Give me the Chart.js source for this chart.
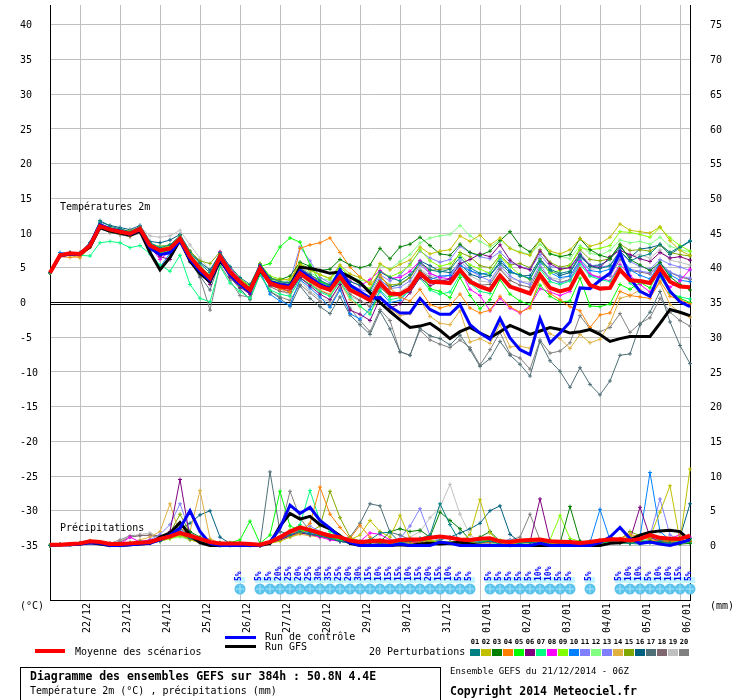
<!DOCTYPE html>
<html>
<head>
<meta charset="utf-8">
<script src="https://cdn.jsdelivr.net/npm/chart.js@4"></script>
<style>
body { margin: 0; background: #fff; }
#wrap { width: 740px; height: 700px; }
</style>
</head>
<body>
<div id="wrap"><canvas id="myChart" width="740" height="700"></canvas></div>
<script>
// GEFS run 21/12/2014 06Z, one point every 6h (0..384h)
let hours = Array.from({ length: 65 }, (_, i) => i * 6);
let dayLabels = ['22/12','23/12','24/12','25/12','26/12','27/12','28/12','29/12','30/12','31/12','01/01','02/01','03/01','04/01','05/01','06/01'];
let tempTicks = [-35,-30,-25,-20,-15,-10,-5,0,5,10,15,20,25,30,35,40];
let precipTicks = [0,5,10,15,20,25,30,35,40,45,50,55,60,65,70,75];

// snow probability (%) per step
let snowProb = [0,0,0,0,0, 0,0,0,0,0, 0,0,0,0,0, 0,0,0,0,5, 0,5,5,20,25, 20,25,30,35,25, 20,30,15,10,15, 15,10,15,20,15, 10,5,5,0,5, 5,5,5,5,10, 10,5,5,0,5, 0,0,5,10,10, 5,10,10,15,5];

// temperature 2m (°C)
let tMean = [4.3,6.8,7.1,7.0,8.2, 11.0,10.5,10.2,9.9,10.6, 8.2,7.5,7.8,9.2,6.6, 4.9,3.5,6.6,4.4,3.0, 1.8,4.9,2.8,2.3,2.1, 4.2,3.2,2.3,1.8,3.7, 1.8,1.1,0.3,2.8,1.3, 1.2,2.0,4.2,3.0,2.9, 2.8,4.7,3.0,2.3,1.8, 3.9,2.3,1.8,1.3,4.0, 2.1,1.6,2.0,4.7,2.5, 2.0,2.1,4.7,3.2,3.1, 2.8,5.0,3.0,2.3,2.2];
let tCtrl = [4.3,6.7,7.0,6.9,8.4, 11.2,10.6,10.3,9.8,10.5, 7.9,6.9,7.2,8.9,6.2, 4.5,3.2,6.3,4.0,2.6, 1.5,5.2,3.0,2.6,2.4, 4.6,3.6,2.6,2.0,4.7, 2.5,1.6,0.6,0.7,-0.6, -1.5,-1.5,0.6,-1.0,-1.7, -1.7,-0.3,-3.2,-4.4,-5.3, -2.3,-5.1,-6.8,-7.5,-2.3, -5.8,-4.4,-2.8,2.1,2.0, 3.2,4.2,7.2,3.5,1.6, 0.9,4.2,1.6,0.1,-0.6];
let tGfs = [4.3,6.8,7.0,7.0,8.0, 10.8,10.3,10.0,9.7,10.3, 7.2,4.7,6.5,9.0,6.0, 4.2,3.0,6.0,4.2,2.8, 1.8,4.6,3.0,2.5,2.4, 5.1,4.9,4.6,4.2,4.4, 3.7,2.9,1.4,0.0,-1.3, -2.5,-3.6,-3.4,-3.0,-4.0, -5.2,-4.2,-3.6,-4.4,-5.1, -4.2,-3.3,-3.9,-4.6,-4.1, -3.6,-3.9,-4.4,-4.2,-3.9, -4.6,-5.6,-5.2,-4.9,-4.9, -4.9,-3.0,-1.0,-1.4,-1.9];
let t01 = [4.3,6.9,7.2,7.1,8.6, 11.8,11.0,10.6,10.2,10.9, 8.6,7.9,8.3,9.6,7.2, 5.6,4.3,7.2,5.2,3.6, 2.6,5.5,3.6,3.0,2.8, 4.9,4.0,3.2,2.5,4.6, 3.0,2.5,1.7,4.4,3.6, 3.1,4.0,5.8,4.7,4.4, 4.8,6.5,5.0,4.2,3.9, 5.6,4.3,4.0,3.4,6.0, 4.8,4.2,4.5,6.8,5.2, 4.9,5.3,7.4,6.0,6.6, 7.0,8.4,7.2,8.0,8.9];
let t02 = [4.3,6.8,7.0,6.9,8.4, 11.3,10.8,10.5,10.3,10.9, 8.4,7.8,8.2,9.6,7.1, 5.1,3.6,6.9,4.6,3.1, 2.0,5.6,3.5,3.2,3.4, 5.5,4.6,4.0,3.5,5.4, 4.1,3.6,2.8,5.6,4.7, 5.5,6.1,8.0,7.0,7.4, 7.6,9.6,8.8,9.7,8.3, 9.3,7.8,7.2,6.8,9.0, 7.4,7.0,7.6,9.2,8.1, 8.5,9.4,11.3,10.4,10.2, 10.0,10.9,8.9,7.5,6.8];
let t03 = [4.3,6.9,7.1,7.0,8.3, 11.2,10.7,10.4,10.0,10.7, 8.3,7.6,7.9,9.3,6.8, 5.0,3.7,6.8,4.5,3.0, 2.0,5.3,3.4,3.3,3.8, 5.8,5.2,4.6,4.8,6.2, 5.4,5.0,5.4,7.8,6.3, 8.0,8.4,9.4,8.2,7.0, 6.8,8.4,7.2,6.8,7.4, 8.9,10.2,8.2,7.3,9.0, 7.0,6.6,6.9,9.2,7.6, 6.8,6.4,8.3,6.2,5.4, 4.6,5.8,3.7,2.6,1.8];
let t04 = [4.3,6.6,6.5,6.6,8.0, 10.9,10.4,10.0,9.6,10.4, 8.0,7.4,7.6,9.0,6.3, 4.6,3.2,6.3,4.0,2.7, 1.6,4.8,2.8,2.0,1.5, 7.8,8.3,8.6,9.3,7.2, 5.1,3.7,2.6,4.0,2.1, 0.8,0.2,1.9,-0.3,-0.8, -0.4,1.2,-0.8,-1.5,-1.1, 0.9,-0.6,-1.4,-0.8,3.5, 1.3,0.4,-0.6,-1.2,-3.6, -1.8,-1.5,1.6,1.0,0.8, 0.6,3.1,0.9,0.4,-0.2];
let t05 = [4.3,6.8,7.1,7.0,8.1, 10.9,10.4,10.1,9.8,10.5, 8.0,7.2,7.5,9.0,6.2, 4.6,3.0,6.2,4.2,2.5, 2.1,5.2,5.6,8.0,9.3, 8.7,5.4,3.0,2.4,4.9, 2.3,1.0,0.2,2.6,0.9, 1.1,2.0,4.4,2.0,1.6, 0.7,3.6,1.0,-0.9,0.4, 3.3,1.2,0.2,-0.3,2.5, 0.9,0.1,0.2,3.5,-0.5, -0.6,-0.2,2.6,1.9,2.9, 2.1,4.9,1.5,0.6,0.0];
let t06 = [4.3,6.8,7.1,7.0,8.2, 11.0,10.5,10.2,9.9,10.5, 7.8,6.6,6.2,8.8,6.0, 4.3,2.6,6.1,3.7,2.2, 1.2,4.6,2.5,2.0,1.6, 3.6,2.4,1.2,0.4,2.6, -1.1,-1.7,-2.6,0.6,-0.8, -0.2,1.4,3.6,2.4,3.0, 3.4,5.6,6.2,7.0,6.6, 8.3,6.1,5.1,4.7,7.4, 5.6,4.8,5.0,6.9,5.3, 5.0,6.6,7.5,6.9,6.3, 5.9,7.2,6.4,6.6,6.1];
let t07 = [4.3,6.7,6.9,6.8,6.7, 8.6,8.8,8.6,7.9,8.2, 7.0,5.4,4.5,6.8,2.6, 0.6,0.1,5.2,2.8,1.6, 0.6,4.0,1.8,1.2,0.9, 3.5,2.6,1.5,0.9,3.0, 0.8,-0.5,-1.7,1.8,0.4, 0.7,1.6,3.5,1.8,1.2, 1.5,4.0,2.8,1.6,1.3, 3.8,2.5,1.7,1.5,4.8, 3.0,2.6,3.1,5.5,3.8, 3.3,3.0,5.2,2.8,1.5, 1.1,3.7,1.4,0.8,0.5];
let t08 = [4.3,6.8,7.1,7.0,8.3, 11.1,10.6,10.3,10.0,10.7, 8.1,6.2,7.4,9.0,6.4, 4.6,3.3,7.3,5.0,3.2, 2.0,4.9,3.0,2.4,2.1, 5.0,4.0,2.6,2.1,4.8, 3.1,2.4,3.3,4.6,3.5, 3.6,4.5,6.0,4.2,3.6, 3.4,4.8,1.9,1.0,-1.2, 0.6,-0.8,-1.5,-0.5,2.0, 1.5,1.0,1.6,5.9,4.1, 3.6,3.1,5.5,3.9,2.6, 1.5,3.8,2.2,3.1,4.8];
let t09 = [4.3,6.8,7.1,7.0,8.2, 11.0,10.4,10.1,9.9,10.6, 8.3,7.7,8.1,9.4,6.9, 5.2,3.9,6.9,4.6,3.3, 2.4,5.6,3.8,3.4,3.2, 5.6,4.8,4.0,3.4,5.2, 3.6,2.6,2.0,4.6,3.7, 4.3,5.4,7.6,6.0,5.2, 5.6,6.9,5.4,4.8,4.2, 6.6,5.2,4.0,3.3,6.1, 4.2,4.6,5.3,7.9,7.6, 7.8,8.2,10.2,10.1,9.8, 9.4,10.8,9.3,8.2,7.4];
let t10 = [4.3,7.2,7.1,7.0,8.4, 11.4,10.6,10.1,9.7,10.4, 7.4,5.1,7.1,9.0,6.3, 4.4,3.0,6.4,4.1,2.6, 1.4,4.6,1.2,0.2,-0.4, 3.3,2.1,0.8,-0.7,1.8, -1.6,-2.4,-1.0,1.6,0.0, 0.3,1.8,4.4,3.3,3.8, 3.9,5.3,4.6,4.1,4.3, 6.4,4.5,3.9,3.5,5.9, 4.3,3.6,3.8,6.1,4.6, 4.4,4.8,6.8,4.7,3.9, 3.4,5.7,4.0,3.2,3.0];
let t11 = [4.3,6.8,7.1,7.0,8.3, 11.2,10.7,10.5,10.3,11.0, 8.4,7.3,7.9,9.4,6.6, 4.8,3.3,6.5,4.3,2.8, 1.6,5.0,3.0,2.6,3.2, 8.0,6.0,3.6,2.8,4.5, 2.6,1.9,1.4,4.0,3.1, 3.9,5.6,7.4,6.4,5.8, 6.2,8.1,7.2,6.6,6.3, 7.3,5.8,5.2,4.8,6.9, 5.2,4.9,5.1,7.1,5.4, 5.1,5.3,7.2,5.9,5.2, 4.8,6.2,5.5,5.1,4.6];
let t12 = [4.3,6.8,7.1,7.0,8.2, 11.1,10.6,10.4,10.1,10.8, 8.6,8.0,8.3,9.6,7.0, 5.3,3.9,6.8,4.5,3.0, 2.1,5.1,3.3,3.0,3.1, 5.0,4.3,3.5,3.2,5.1, 3.8,3.2,3.0,5.4,4.8, 5.9,6.9,8.6,9.3,9.6, 9.8,11.1,9.6,8.8,8.0, 9.0,7.8,7.3,6.9,8.4, 7.1,6.7,6.3,8.2,7.1, 6.8,7.5,9.0,8.6,8.8, 8.4,9.4,8.1,7.6,7.3];
let t13 = [4.3,6.8,7.1,7.0,8.2, 10.9,10.4,10.2,9.9,10.6, 8.0,7.4,7.7,9.1,6.5, 4.8,3.4,6.7,4.5,3.1, 2.0,5.0,3.1,2.6,2.5, 4.5,3.6,2.9,2.4,4.3, 2.4,1.6,0.9,3.3,2.0, 2.2,3.1,5.4,4.2,3.6, 3.9,6.0,4.6,3.8,3.1, 5.3,3.8,3.0,2.6,5.5, 3.4,2.8,3.2,6.0,3.9, 3.5,3.9,6.5,4.8,4.5, 4.3,5.7,4.4,3.8,3.5];
let t14 = [4.3,6.6,6.8,6.4,7.9, 10.8,10.2,9.9,9.6,10.3, 8.0,7.1,7.4,8.9,6.4, 4.6,3.2,6.4,4.2,2.7, 1.5,4.6,2.5,1.9,1.7, 3.9,2.8,1.8,1.2,2.9, 0.4,-0.6,-1.5,0.9,-0.9, -1.9,-1.6,0.4,-2.0,-3.0, -3.2,-1.2,-5.7,-5.2,-5.9, -3.2,-6.4,-6.3,-6.6,-2.6, -4.5,-5.2,-6.6,-4.6,-5.8, -5.3,-3.0,0.6,1.0,1.8, 1.0,2.8,-0.3,-1.5,-2.1];
let t15 = [4.3,6.8,7.1,7.0,8.2, 11.0,10.6,10.3,10.0,10.5, 8.4,8.1,8.3,9.4,7.4, 6.0,5.6,7.3,5.0,3.4, 2.4,5.3,3.4,2.9,2.8, 4.8,3.9,3.0,2.6,4.2, 2.4,1.6,0.9,3.6,2.5, 2.7,3.6,5.6,4.6,4.8, 4.9,7.2,6.6,5.3,5.0, 6.8,5.4,5.6,5.0,7.6, 5.8,5.1,5.4,7.6,6.2, 6.0,6.3,8.4,7.5,7.6, 7.4,8.3,7.2,6.9,6.7];
let t16 = [4.3,6.9,7.2,7.2,8.6, 11.6,11.1,10.8,10.5,11.1, 8.8,8.6,9.0,9.8,7.4, 5.8,4.7,7.0,4.9,3.3, 2.3,5.3,3.2,2.8,2.6, 4.5,3.7,2.9,2.3,4.1, 2.3,1.5,0.8,3.2,2.2, 2.6,3.6,6.0,5.3,4.5, 4.3,5.6,4.1,3.6,3.9, 5.9,4.6,3.8,3.9,6.3, 4.6,3.9,4.3,6.6,5.3, 5.4,6.2,8.0,6.5,7.7, 7.9,8.3,6.9,7.9,8.8];
let t17 = [4.3,6.8,7.1,7.0,8.0, 10.7,10.1,9.8,9.5,10.2, 7.6,6.8,7.1,8.6,5.8, 3.8,1.8,6.0,3.6,2.0, 0.4,4.2,1.6,0.6,-0.6, 2.4,0.6,-0.6,-1.6,0.8, -1.8,-3.2,-4.6,-1.3,-3.8, -7.1,-7.6,-3.7,-4.8,-5.2, -6.1,-4.7,-6.8,-9.2,-8.1, -5.6,-7.6,-8.9,-10.6,-5.6, -8.4,-9.9,-12.2,-9.4,-11.8, -13.3,-11.3,-7.6,-7.4,-3.2, -1.4,1.6,-2.8,-6.2,-8.8];
let t18 = [4.3,6.8,7.0,7.0,8.1, 10.9,10.3,10.0,9.7,10.4, 7.9,6.9,7.2,8.8,6.1, 4.3,2.9,6.1,3.9,2.4, 1.2,4.6,2.3,1.6,1.4, 3.6,2.6,1.7,1.1,3.2, 1.2,0.3,-0.6,2.2,0.9, 1.0,2.3,4.6,3.6,3.2, 3.0,4.8,3.3,2.5,2.6, 4.8,3.2,2.5,2.2,5.0, 3.4,2.9,3.3,5.9,4.0, 3.6,3.8,6.2,4.6,4.4, 4.1,5.4,4.3,3.7,3.3];
let t19 = [4.3,6.8,7.1,7.0,8.4, 11.1,10.7,10.4,10.2,10.9, 9.6,9.4,9.6,10.4,8.3, 6.4,4.6,6.9,4.7,3.2, 2.1,5.0,3.2,2.0,1.0, 3.2,1.6,0.6,0.1,2.6, 0.9,0.2,-0.3,2.6,1.2, 1.5,2.6,4.8,3.9,3.4, 3.2,5.2,3.9,3.1,2.9, 4.9,3.5,3.1,2.9,5.0, 3.6,3.3,3.8,6.2,4.8, 4.9,5.4,7.6,6.7,6.9, 6.4,7.6,6.1,5.8,5.4];
let t20 = [4.3,6.8,7.1,7.0,8.0, 10.6,10.1,9.8,9.5,10.0, 8.2,7.3,7.6,9.1,6.1, 3.6,-1.1,5.4,3.2,1.0, 0.8,4.0,1.6,0.8,0.3, 2.6,1.4,0.2,-0.5,2.1, -0.8,-2.6,-4.2,-1.0,-2.6, -7.1,-7.6,-4.0,-5.4,-6.0, -6.5,-5.4,-6.5,-9.0,-6.8, -4.3,-7.4,-8.0,-9.6,-5.4, -7.3,-7.0,-5.8,-1.9,-3.8, -4.2,-3.6,-1.6,-4.3,-3.0, -2.2,0.6,-1.4,-2.6,-3.4];

// precipitation (mm / 6h)
let pMean = [0.1,0.1,0.2,0.3,0.6, 0.5,0.2,0.2,0.3,0.4, 0.5,0.95,1.3,1.8,1.4, 0.95,0.5,0.3,0.3,0.3, 0.2,0.1,0.5,1.2,2.0, 2.6,2.2,1.8,1.4,1.2, 0.7,0.5,0.6,0.7,0.5, 0.8,0.85,0.85,1.1,1.3, 1.1,0.85,0.8,0.95,1.05, 0.6,0.5,0.7,0.8,0.85, 0.6,0.55,0.5,0.35,0.5, 0.7,0.85,0.9,0.7,0.95, 1.5,1.1,0.95,0.95,1.4];
let pCtrl = [0,0.1,0.1,0.2,0.4, 0.3,0,0,0.1,0.2, 0.3,0.8,1.5,2.5,5.0, 2.0,0.3,0,0,0, 0,0,0.5,2.5,5.8, 4.6,5.5,3.6,2.5,1.2, 0.4,0,0,0,0, 0.2,0,0,0,0.5, 0.3,0,0,0,0, 0,0,0,0,0.3, 0,0,0,0,0, 0.4,1.2,2.6,1.0,0.3, 0.5,0.2,0,0.4,0.8];
let pGfs = [0,0.1,0.1,0.2,0.4, 0.2,0,0,0.1,0.2, 0.3,1.2,1.8,3.3,1.5, 0.4,0,0,0,0, 0,0,0.3,2.8,4.6, 3.8,4.2,3.0,2.4,1.4, 0.3,0,0,0,0, 0.1,0,0.2,0.3,0.2, 0.3,0.5,0.2,0,0, 0,0,0,0,0, 0,0,0,0,0, 0,0.3,0.4,0.8,1.5, 1.9,2.1,2.2,2.0,0.7];
let p01 = [0,0.1,0.2,0.3,0.5, 0.3,0,0,0.2,0.3, 0.4,0.6,1.2,2.0,1.0, 0.5,0.3,0,0,0, 0,0,0.4,1.0,1.5, 2.0,1.6,1.4,1.0,0.6, 0.3,0.4,0.8,1.8,1.9, 0.4,0.6,1.0,1.5,6.0, 3.0,0.5,0.3,0.4,0.6, 0.2,0,0.3,0.5,0.3, 0.1,0.2,0.6,0.4,0.4, 0.5,0.7,0.4,0.3,0.2, 0.4,0.6,0.3,0.5,1.0];
let p02 = [0,0.1,0.2,0.3,0.6, 0.4,0.2,0.2,0.3,0.3, 0.4,0.6,1.0,1.5,0.8, 0.4,0.2,0,0,0.2, 0.2,0,0.3,0.6,1.2, 1.8,2.4,2.0,1.5,1.0, 0.8,1.5,3.6,2.0,1.2, 4.3,1.0,0.4,0.8,0.5, 0.3,0.4,1.6,6.6,1.8, 0.4,0.2,0.4,0.6,0.3, 0.2,0.4,0.5,0.3,0.4, 0.6,0.9,0.7,1.4,0.8, 1.2,4.8,8.6,0.7,11.0];
let p03 = [0,0.1,0.2,0.3,0.5, 0.4,0.2,0.1,0.2,0.4, 0.5,0.8,1.6,3.0,2.0, 1.2,0.6,0.4,0.3,0.3, 0.2,0,0.4,1.0,2.0, 2.6,2.0,1.6,1.4,1.0, 0.6,0.4,0.4,0.5,2.0, 2.4,2.0,2.2,1.2,4.8, 3.6,2.4,0.8,1.2,2.0, 0.6,0.3,0.4,0.5,0.4, 0.3,0.3,5.6,0.6,0.4, 0.5,0.6,0.4,0.3,0.5, 0.6,0.4,0.3,0.2,0.3];
let p04 = [0,0.1,0.2,0.4,0.6, 0.4,0.1,0.2,0.3,0.4, 0.5,0.9,1.5,2.5,1.6, 0.8,0.4,0.2,0.2,0.2, 0.2,0.1,0.4,1.2,1.8, 2.0,3.2,8.4,4.5,2.6, 1.0,2.9,1.2,0.5,0.4, 0.6,0.4,0.3,0.5,0.4, 0.3,0.5,0.6,0.3,0.5, 0.4,0.3,0.4,0.6,0.5, 0.6,0.4,0.3,0.2,0.4, 0.5,0.8,1.0,1.6,1.2, 0.8,0.6,0.5,0.8,0.6];
let p05 = [0,0.1,0.2,0.3,0.6, 0.5,0.2,0.2,0.4,0.5, 0.6,0.9,1.3,1.6,1.0, 0.6,0.3,0.3,0.4,0.8, 3.5,0.3,1.5,7.8,2.8, 2.2,2.0,1.5,1.2,0.8, 0.4,0.6,0.8,0.4,0.6, 0.5,0.7,0.8,0.6,0.6, 0.4,0.6,0.5,0.4,0.8, 0.6,0.4,0.5,0.6,0.5, 0.4,0.5,0.6,0.3,0.4, 0.5,0.6,0.8,0.6,0.9, 1.8,0.9,0.8,0.6,0.8];
let p06 = [0,0.1,0.2,0.3,0.5, 0.3,0.2,0.2,0.3,0.5, 0.6,1.0,2.0,9.5,1.0, 0.4,0.3,0.2,0.2,0.2, 0.1,0,0.3,0.8,1.4, 1.8,1.6,1.4,1.0,0.6, 0.4,0.3,0.4,0.3,0.4, 0.5,0.6,0.4,0.6,0.5, 0.4,0.6,0.5,0.4,0.6, 0.5,0.4,0.6,0.5,6.7, 0.6,0.3,0.4,0.3,0.4, 0.5,0.6,0.7,0.8,5.5, 1.2,0.6,0.5,0.4,0.6];
let p07 = [0,0.1,0.2,0.3,0.6, 0.5,0.2,0.2,0.3,0.4, 0.5,0.8,1.2,1.8,1.2, 0.8,0.4,0.3,0.3,0.2, 0.2,0.1,0.3,1.0,2.0, 3.0,7.9,3.5,2.0,1.2, 0.6,0.4,0.5,0.3,0.4, 0.6,0.8,1.0,0.6,0.5, 0.4,0.6,0.4,0.8,0.6, 0.5,0.3,0.4,0.5,0.6, 0.4,0.3,0.4,0.3,0.2, 0.4,0.5,0.6,0.5,0.7, 0.8,0.5,0.6,0.4,0.5];
let p08 = [0,0.1,0.2,0.3,0.6, 0.5,0.2,0.2,1.2,0.5, 0.8,1.0,1.3,1.6,0.9, 0.6,0.3,0.3,0.2,0.2, 0.1,0,0.3,0.8,1.4, 2.0,1.6,1.2,0.8,0.6, 0.4,0.6,1.8,1.6,0.8, 0.6,0.5,0.4,0.5,0.6, 0.4,0.5,0.6,0.4,0.5, 0.4,0.3,0.4,0.5,0.6, 0.4,0.5,0.6,0.4,0.3, 0.4,0.6,0.5,0.8,0.7, 0.6,0.8,0.9,1.6,1.2];
let p09 = [0,0.1,0.2,0.3,0.7, 0.5,0.2,0.2,0.3,0.4, 0.5,0.7,1.0,1.4,1.0, 0.5,0.3,0.2,0.2,0.3, 0.2,0.1,0.5,1.2,2.2, 2.8,2.4,1.8,1.4,1.0, 0.6,0.4,0.5,0.4,0.5, 0.6,0.5,0.8,0.6,0.5, 0.4,0.5,0.6,0.7,0.6, 0.8,0.6,0.5,0.4,0.6, 0.8,4.3,1.0,0.6,0.5, 0.4,0.6,0.5,0.7,0.5, 0.6,0.9,0.7,0.6,0.5];
let p10 = [0,0.1,0.2,0.3,0.5, 0.4,0.2,0.2,0.3,0.4, 0.5,0.8,1.4,2.4,1.5, 0.6,0.2,0.2,0.2,0.2, 0.2,0,0.3,1.0,1.6, 2.2,1.8,1.4,1.2,0.8, 0.4,0.3,0.4,0.6,0.5, 0.6,0.5,0.6,0.5,0.4, 0.3,0.4,0.5,0.6,0.5, 0.4,0.3,0.4,0.5,0.4, 0.3,0.4,0.5,0.6,0.4, 5.2,0.8,0.6,0.8,1.2, 10.5,2.0,0.8,0.6,0.5];
let p11 = [0,0.1,0.2,0.3,0.5, 0.4,0.2,0.2,0.4,0.6, 0.8,1.6,3.0,6.0,2.0, 0.8,0.4,0.3,0.3,0.3, 0.2,0.1,0.4,1.2,1.8, 2.4,2.0,1.6,1.2,0.8, 0.5,0.4,0.6,0.8,0.6, 1.0,2.8,5.3,1.4,0.6, 0.4,0.5,0.4,0.3,0.4, 0.5,0.4,0.5,0.6,0.8, 0.6,0.5,0.4,0.5,0.6, 0.8,0.9,0.7,0.8,1.0, 1.4,6.7,1.5,0.8,0.6];
let p12 = [0,0.1,0.2,0.3,0.6, 0.5,0.2,0.2,0.3,0.4, 0.4,0.6,1.0,1.2,0.8, 0.5,0.3,0.2,0.2,0.2, 0.1,0,0.3,0.8,1.5, 2.0,1.8,1.4,1.0,0.6, 0.3,0.4,0.3,0.4,0.3, 0.4,0.3,0.4,0.5,0.4, 0.3,0.4,0.3,0.4,0.3, 0.4,0.3,0.3,0.4,0.3, 0.2,0.3,0.4,0.3,0.2, 0.3,0.4,0.6,0.5,0.4, 0.5,0.6,0.5,0.4,0.5];
let p13 = [0,0.1,0.2,0.3,0.5, 0.4,0.2,0.2,0.3,0.4, 0.5,0.9,1.4,2.2,1.2, 0.6,0.3,0.3,0.2,0.2, 0.2,0.1,0.4,1.0,1.6, 2.2,2.8,2.0,1.6,1.0, 0.6,0.5,0.4,0.5,0.6, 0.8,0.6,0.4,0.5,0.4, 0.4,0.5,0.6,0.4,0.5, 0.6,0.8,0.6,0.5,0.4, 0.4,0.5,0.6,0.5,0.4, 0.5,0.6,0.5,0.4,0.6, 0.8,0.6,0.5,0.6,0.5];
let p14 = [0,0.1,0.2,0.3,0.6, 0.5,0.2,0.2,0.4,0.8, 1.2,2.0,6.0,1.5,2.0, 7.9,1.0,0.3,0.2,0.2, 0.2,0.1,0.3,0.8,1.2, 1.6,1.4,1.2,1.0,0.8, 0.6,0.5,0.4,0.4,0.3, 0.4,0.3,0.4,0.3,0.5, 0.4,0.3,0.5,0.4,0.6, 0.5,0.4,0.3,0.4,0.5, 0.4,0.3,0.2,0.3,0.3, 0.4,0.5,0.4,0.6,0.5, 0.4,0.6,0.5,0.4,0.5];
let p15 = [0,0.1,0.2,0.3,0.5, 0.4,0.2,0.2,0.3,0.5, 0.6,1.0,1.8,4.5,1.8, 0.6,0.3,0.2,0.2,0.2, 0.2,0.1,0.4,1.0,1.8, 2.2,2.0,2.8,7.8,4.0, 1.2,0.6,0.4,0.5,0.4, 0.4,0.5,0.6,0.5,0.4, 0.5,0.4,0.6,0.5,0.4, 0.4,0.5,0.4,0.6,0.5, 0.3,0.4,0.5,0.4,0.6, 0.8,1.2,0.9,2.0,1.4, 1.0,0.8,0.6,0.5,0.6];
let p16 = [0,0.1,0.2,0.3,0.5, 0.4,0.2,0.2,0.3,0.5, 0.6,1.0,1.6,2.4,3.2, 4.4,5.0,1.2,0.3,0.2, 0.2,0.1,0.4,1.0,1.6, 2.0,1.6,1.2,1.0,0.6, 0.4,0.3,0.5,0.6,0.5, 0.4,0.6,0.5,0.4,0.8, 1.2,1.8,2.4,3.2,5.0, 5.7,1.6,0.5,0.4,0.5, 0.6,0.5,0.6,0.4,0.5, 0.6,0.5,0.8,0.6,0.7, 0.6,0.8,0.6,1.2,6.0];
let p17 = [0,0.1,0.2,0.3,0.5, 0.4,0.2,0.2,0.3,0.4, 0.5,0.8,1.2,1.6,1.0, 0.6,0.3,0.2,0.2,0.2, 0.2,0.1,10.6,2.0,1.6, 2.0,1.8,1.4,1.0,0.8, 1.2,3.2,6.0,5.7,1.9, 1.5,0.8,0.5,0.4,0.5, 0.4,0.5,0.4,0.5,0.6, 0.4,0.3,0.4,0.5,0.4, 0.3,0.4,0.3,0.4,0.3, 0.4,0.5,0.6,0.4,0.5, 0.6,0.8,0.6,0.5,0.6];
let p18 = [0,0.1,0.2,0.3,0.6, 0.5,0.3,0.5,1.2,1.4, 1.5,1.4,1.2,1.6,1.0, 0.6,0.3,0.2,0.2,0.2, 0.1,0,0.3,0.8,1.4, 1.8,1.6,1.2,1.0,0.8, 0.5,0.4,0.5,0.4,0.3, 0.4,0.5,0.4,0.6,0.4, 0.3,0.4,0.5,0.4,0.3, 0.4,0.3,0.4,0.3,0.4, 0.3,0.2,0.3,0.4,0.3, 0.4,0.6,0.5,0.4,0.5, 0.6,0.5,0.6,0.8,0.6];
let p19 = [0,0.1,0.2,0.3,0.5, 0.4,0.3,0.6,1.2,1.6, 1.8,1.2,1.0,1.4,0.8, 0.5,0.3,0.2,0.2,0.2, 0.1,0,0.3,0.8,1.4, 1.8,1.6,1.4,1.0,0.8, 0.6,0.4,0.5,0.6,0.5, 0.8,1.2,2.0,4.0,5.5, 8.8,4.5,1.5,0.6,0.4, 0.5,0.4,0.6,0.5,0.4, 0.3,0.4,0.5,0.4,0.3, 0.4,0.5,0.4,0.6,0.5, 0.6,0.8,0.6,0.5,0.6];
let p20 = [0,0.1,0.2,0.3,0.5, 0.4,0.3,0.8,1.4,1.5, 1.4,1.2,1.3,1.8,1.0, 0.6,0.3,0.2,0.2,0.3, 0.2,0.1,0.5,2.0,7.8, 4.0,2.0,1.6,1.2,0.8, 0.6,0.5,0.4,0.5,0.6, 0.5,0.4,0.6,0.5,0.4, 0.5,0.6,0.4,0.5,0.6, 0.5,0.8,1.2,4.5,0.8, 0.4,0.3,0.4,0.5,0.4, 0.5,0.6,0.5,0.4,0.5, 0.6,0.5,0.4,0.5,0.6];

let tMembers = [t01,t02,t03,t04,t05,t06,t07,t08,t09,t10,t11,t12,t13,t14,t15,t16,t17,t18,t19,t20];
let pMembers = [p01,p02,p03,p04,p05,p06,p07,p08,p09,p10,p11,p12,p13,p14,p15,p16,p17,p18,p19,p20];
let memberColors = ['#008080','#c0c000','#008000','#ff8000','#00ff00','#800080','#00ff80','#ff00ff','#80ff00','#0080ff',
                    '#8080ff','#80ff80','#8080ff','#e0b040','#80a800','#006080','#507078','#806870','#c0c0c0','#808080'];

Chart.defaults.font.family = "'DejaVu Sans Mono', monospace";
Chart.defaults.font.size = 10;
Chart.defaults.color = '#000';

// first datasets are drawn last (on top)
let datasets = [
  { data: tMean, borderColor: '#ff0000', borderWidth: 4, pointRadius: 0, yAxisID: 'y' },
  { data: pMean, borderColor: '#ff0000', borderWidth: 4, pointRadius: 0, yAxisID: 'y2' },
  { data: tCtrl, borderColor: '#0000ff', borderWidth: 3, pointRadius: 0, yAxisID: 'y' },
  { data: pCtrl, borderColor: '#0000ff', borderWidth: 3, pointRadius: 0, yAxisID: 'y2' },
  { data: tGfs, borderColor: '#000000', borderWidth: 3, pointRadius: 0, yAxisID: 'y' },
  { data: pGfs, borderColor: '#000000', borderWidth: 3, pointRadius: 0, yAxisID: 'y2' }
];
tMembers.forEach((d, k) => {
  datasets.push({ data: d, borderColor: memberColors[k], borderWidth: 1, pointStyle: 'cross',
    pointRadius: 2, pointBorderWidth: 1, pointBorderColor: memberColors[k], yAxisID: 'y' });
});
pMembers.forEach((d, k) => {
  datasets.push({ data: d, borderColor: memberColors[k], borderWidth: 1, pointStyle: 'cross',
    pointRadius: 2, pointBorderWidth: 1, pointBorderColor: memberColors[k], yAxisID: 'y2' });
});

// double black line at 0°C
const zeroLine = {
  id: 'zeroLine',
  beforeDatasetsDraw(chart) {
    const { ctx, chartArea: a, scales: { y } } = chart;
    const p = Math.round(y.getPixelForValue(0));
    ctx.save();
    ctx.strokeStyle = '#000';
    ctx.lineWidth = 1;
    [p - 0.5, p + 1.5].forEach(yy => {
      ctx.beginPath(); ctx.moveTo(a.left, yy); ctx.lineTo(a.right, yy); ctx.stroke();
    });
    ctx.restore();
  }
};

// snow probability row at the bottom of the plot
const snowRow = {
  id: 'snowRow',
  afterDatasetsDraw(chart) {
    const { ctx, chartArea: a, scales: { x } } = chart;
    ctx.save();
    ctx.fillStyle = '#c4f6ff';
    snowProb.forEach((p, i) => {
      if (!p) return;
      const cx = x.getPixelForValue(i);
      ctx.fillRect(cx - 5, a.bottom - 23, 10, 6);
    });
    snowProb.forEach((p, i) => {
      if (!p) return;
      const cx = x.getPixelForValue(i);
      const cy = a.bottom - 11;
      ctx.fillStyle = '#5cc4ec';
      ctx.beginPath(); ctx.arc(cx, cy, 5.5, 0, Math.PI * 2); ctx.fill();
      ctx.strokeStyle = '#a8e4fa';
      ctx.lineWidth = 1;
      ctx.beginPath();
      ctx.moveTo(cx - 4, cy); ctx.lineTo(cx + 4, cy);
      ctx.moveTo(cx, cy - 4); ctx.lineTo(cx, cy + 4);
      ctx.stroke();
      ctx.save();
      ctx.translate(cx - 1, a.bottom - 19);
      ctx.rotate(-Math.PI / 2);
      ctx.fillStyle = '#0000ff';
      ctx.font = "bold 8px 'DejaVu Sans Mono'";
      ctx.textAlign = 'left';
      ctx.textBaseline = 'middle';
      ctx.fillText(p + '%', 0, 0);
      ctx.restore();
    });
    ctx.restore();
  }
};

// texts, legend and title box
const decorations = {
  id: 'decorations',
  afterDraw(chart) {
    const ctx = chart.ctx;
    ctx.save();
    ctx.fillStyle = '#000';
    ctx.textAlign = 'left';
    ctx.textBaseline = 'middle';
    ctx.font = "10px 'DejaVu Sans Mono'";
    ctx.fillText('Températures 2m', 60, 207);
    ctx.fillText('Précipitations', 60, 528);
    ctx.fillText('(°C)', 20, 606);
    ctx.fillText('(mm)', 710, 606);

    ctx.fillStyle = '#ff0000'; ctx.fillRect(35, 649, 30, 4);
    ctx.fillStyle = '#0000ff'; ctx.fillRect(225, 636, 31, 3);
    ctx.fillStyle = '#000000'; ctx.fillRect(225, 645, 31, 3);
    ctx.fillText('Moyenne des scénarios', 75, 652);
    ctx.fillText('Run de contrôle', 265, 637);
    ctx.fillText('Run GFS', 265, 647);
    ctx.fillText('20 Perturbations', 369, 652);

    memberColors.forEach((c, k) => {
      ctx.fillStyle = c;
      ctx.fillRect(470 + k * 11, 649, 10, 7);
      ctx.fillStyle = '#000';
      ctx.font = "bold 7px 'DejaVu Sans Mono'";
      ctx.textAlign = 'center';
      ctx.fillText(String(k + 1).padStart(2, '0'), 475 + k * 11, 642);
    });

    ctx.textAlign = 'left';
    ctx.strokeStyle = '#000';
    ctx.lineWidth = 1;
    ctx.strokeRect(20.5, 667.5, 420, 40);
    ctx.font = "bold 11.5px 'DejaVu Sans Mono'";
    ctx.fillText('Diagramme des ensembles GEFS sur 384h : 50.8N 4.4E', 30, 677);
    ctx.font = "10px 'DejaVu Sans Mono'";
    ctx.fillText('Température 2m (°C) , précipitations (mm)', 30, 691);
    ctx.font = "9px 'DejaVu Sans Mono'";
    ctx.fillText('Ensemble GEFS du 21/12/2014 - 06Z', 450, 672);
    ctx.font = "bold 11.5px 'DejaVu Sans Mono'";
    ctx.fillText('Copyright 2014 Meteociel.fr', 450, 692);
    ctx.restore();
  }
};

// vertical axes must not add padding above / below the plot
function noVerticalPadding(s) {
  s.paddingTop = 0;
  s.paddingBottom = 0;
}

let myChart = document.getElementById('myChart').getContext('2d');
let chart = new Chart(myChart, {
  type: 'line',
  data: { labels: hours, datasets: datasets },
  options: {
    responsive: false,
    animation: false,
    layout: { padding: { left: 20, right: 0, top: 0, bottom: 0 } },
    elements: { line: { tension: 0 } },
    plugins: { legend: { display: false }, tooltip: { enabled: false } },
    scales: {
      x: {
        type: 'category',
        offset: false,
        border: { display: true, color: '#000', width: 1 },
        grid: { drawTicks: false, color: ctx => (ctx.index % 4 === 3 ? '#c0c0c0' : 'rgba(0,0,0,0)') },
        ticks: {
          autoSkip: false, minRotation: 90, maxRotation: 90, padding: 3, labelOffset: 7,
          callback: (v, i) => (i % 4 === 3 ? dayLabels[(i - 3) / 4] : '')
        },
        afterFit: s => { s.height = 100; s.paddingLeft = 0; s.paddingRight = 0; }
      },
      y: {
        position: 'left',
        min: -300 / 7, max: 300 / 7,
        border: { display: true, color: '#000', width: 1 },
        grid: { drawTicks: false, color: ctx => (ctx.tick && ctx.tick.value === 0 ? 'rgba(0,0,0,0)' : '#c0c0c0') },
        ticks: { crossAlign: 'far', padding: 0, labelOffset: 1 },
        afterBuildTicks: s => { s.ticks = tempTicks.map(v => ({ value: v })); },
        afterFit: s => { s.width = 30; noVerticalPadding(s); }
      },
      y2: {
        position: 'right',
        min: 35 - 300 / 7, max: 35 + 300 / 7,
        border: { display: true, color: '#000', width: 1 },
        grid: { display: false, drawTicks: false },
        ticks: { padding: 20, labelOffset: 1 },
        afterBuildTicks: s => { s.ticks = precipTicks.map(v => ({ value: v })); },
        afterFit: s => { s.width = 50; noVerticalPadding(s); }
      }
    }
  },
  plugins: [zeroLine, snowRow, decorations]
});
</script>
</body>
</html>
